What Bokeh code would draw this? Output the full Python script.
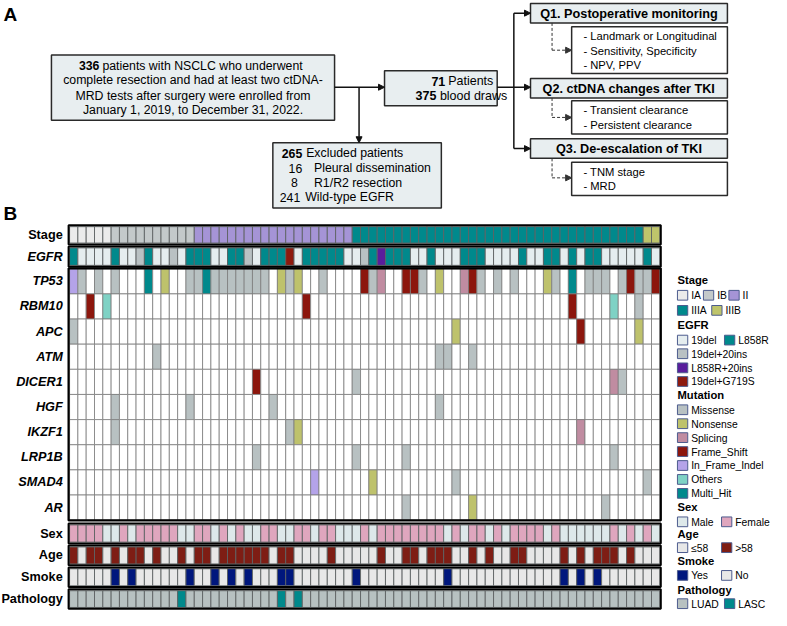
from bokeh.plotting import figure
from bokeh.models import Range1d, Arrow, NormalHead
from bokeh.core.properties import value
from bokeh.embed import file_html
from bokeh.resources import INLINE

# ---------------- data ----------------
N_PATIENTS = 71
stage_codes = ("AAAAA" "BBBBBBBBBB" "CCCCCCCCCCCCCCCCCCC"
               "DDDDDDDDDDDDDDDDDDDDDDDDDDDDDDDDDDD" "EE")
egfr_codes = ("LddddLddgL" "ddgdLLLddL" "LgdLLLRdLL" "LLLddgLPLL"
              "LddLdddLLL" "ddddLddLLd" "LdLLdddddL" "d")
genes = ["TP53", "RBM10", "APC", "ATM", "DICER1", "HGF", "IKZF1", "LRP1B", "SMAD4", "AR"]
mutations = {
    "TP53": [(0, "I"), (1, "M"), (3, "M"), (5, "M"), (9, "H"), (11, "N"), (14, "M"), (15, "M"),
             (16, "H"), (17, "M"), (18, "M"), (19, "M"), (20, "M"), (21, "M"), (22, "M"), (23, "M"),
             (25, "N"), (26, "M"), (27, "N"), (30, "M"), (35, "F"), (36, "M"), (37, "S"), (40, "F"),
             (41, "F"), (42, "M"), (44, "N"), (47, "S"), (48, "F"), (49, "M"), (51, "M"), (53, "M"),
             (57, "N"), (58, "M"), (60, "H"), (62, "M"), (63, "M"), (64, "M"), (66, "M"), (67, "F"),
             (68, "M"), (69, "M"), (70, "F")],
    "RBM10": [(2, "F"), (4, "O"), (28, "F"), (60, "F"), (65, "O"), (68, "M")],
    "APC": [(0, "M"), (46, "N"), (61, "F"), (68, "N")],
    "ATM": [(10, "M"), (44, "M"), (45, "M"), (48, "M")],
    "DICER1": [(22, "F"), (34, "M"), (65, "S"), (66, "M")],
    "HGF": [(5, "M"), (14, "M"), (24, "M"), (44, "M")],
    "IKZF1": [(5, "M"), (26, "M"), (27, "N"), (61, "S")],
    "LRP1B": [(22, "M"), (34, "M"), (40, "M"), (65, "M")],
    "SMAD4": [(29, "I"), (36, "N"), (46, "M"), (69, "M")],
    "AR": [(40, "M"), (48, "N"), (64, "M")],
}
sex_codes = ("FFFFMMFMFF" "FFFMMFFMFM" "FMMFFMMFFM" "FFMMMFMFFF"
             "FFFFFMFMFF" "MFMFFFFMFM" "MMMMMFMFMF" "M")
age_codes = ("OYOOYOYOOY" "OYYOYOOYOO" "OOOOYOOYYY" "YOYYYYYOYY"
             "OOYOOOYYOY" "OYYOOYYYYO" "YOYOOOYOYY" "Y")
smoke_codes = ("NNNNNYNYNN" "NNNNYNNYNY" "NYNNNYYNNN" "NNNNYNNNNN"
               "NNNNNYNNNN" "NNNNNNNNNY" "NYNYNNNNNN" "N")
path_codes = ("UUUUUUUUUU" "UUUSUUUUUU" "UUUUUSUSUU" "UUUUUUUUUU"
              "UUUUUUUUUU" "UUUUUUUUUU" "UUUUUUUUUU" "U")

stage_col = {"A": "#ebebeb", "B": "#c3c9ca", "C": "#a594d6", "D": "#00898c", "E": "#bec46b"}
egfr_col = {"d": "#e5edef", "L": "#00898c", "g": "#b9c1c3", "P": "#5a1e9c", "R": "#8e1a0e"}
mut_col = {"M": "#b8c1c2", "N": "#bec26c", "S": "#c08ca1", "F": "#8c160d",
           "I": "#b4a3e9", "O": "#7fd2c5", "H": "#00898c"}
sex_col = {"M": "#dde8ea", "F": "#dfa6be"}
age_col = {"Y": "#e7e7e7", "O": "#7e1d14"}
smoke_col = {"Y": "#00177d", "N": "#e8e8e8"}
path_col = {"U": "#b7c1c1", "S": "#00898c"}

# ---------------- figure ----------------
p = figure(width=771, height=610, x_range=Range1d(0, 787), y_range=Range1d(626, 0),
           output_backend="svg", toolbar_location=None, x_axis_type=None, y_axis_type=None,
           min_border=0)
p.outline_line_color = None
p.background_fill_color = "white"
SC = 0.976
INK = "#111111"


def txt(x, y, s, size, style="normal", align="left", color="#000000"):
    p.text(x=[x], y=[y], text=[s], text_font=value("Liberation Sans"),
           text_font_size=f"{size*SC:.2f}px", text_font_style=style,
           text_align=align, text_baseline="middle", text_color=color)


def box(l, r, t, b, fill, lw=1.5, lc="#2a2a2a"):
    p.quad(left=[l], right=[r], top=[t], bottom=[b], fill_color=fill, line_color=lc, line_width=lw)


def arrow(x0, y0, x1, y1, dash="solid", lw=1.5, color=INK, head=True):
    end = NormalHead(size=6, fill_color=color, line_color=color, line_width=1) if head else None
    p.add_layout(Arrow(end=end, x_start=x0, y_start=y0, x_end=x1, y_end=y1,
                       line_width=lw, line_color=color, line_dash=dash))


def seg(xs, ys, dash="solid", lw=1.5, color=INK):
    p.line(x=xs, y=ys, line_width=lw, line_color=color, line_dash=dash)


# ---------------- panel A ----------------
txt(3, 14, "A", 19.5, "bold")
BOXF = "#e8eef0"
box(52, 341, 56, 123, BOXF)
txt(101, 67, "336", 12.6, "bold", "right")
txt(104, 67, "patients with NSCLC who underwent", 12.6)
txt(196.5, 82, "complete resection and had at least two ctDNA-", 12.6, align="center")
txt(196.5, 97.5, "MRD tests after surgery were enrolled from", 12.6, align="center")
txt(196.5, 112.5, "January 1, 2019, to December 31, 2022.", 12.6, align="center")

arrow(341, 89, 392, 89)
arrow(366, 89, 366, 146)

box(392, 507, 72, 108, BOXF)
txt(454, 83, "71", 12.8, "bold", "right")
txt(457, 83, "Patients", 12.8)
txt(445, 98, "375", 12.8, "bold", "right")
txt(448.5, 98, "blood draws", 12.8)

box(278, 450, 146, 213, BOXF)
txt(308, 157, "265", 12.6, "bold", "right")
txt(312, 157, "Excluded patients", 12.6)
txt(308, 172, "16", 12.6, align="right")
txt(320, 172, "Pleural dissemination", 12.6)
txt(303.5, 187, "8", 12.6, align="right")
txt(320, 187, "R1/R2 resection", 12.6)
txt(306, 202, "241", 12.6, align="right")
txt(311, 202, "Wild-type EGFR", 12.6)

seg([507, 524], [89, 89])
seg([524, 524], [13, 152])
arrow(524, 13, 541, 13)
arrow(524, 89, 541, 89)
arrow(524, 152, 541, 152)

q_titles = ["Q1. Postoperative monitoring", "Q2. ctDNA changes after TKI", "Q3. De-escalation of TKI"]
q_boxes = [(3, 23), (80, 100), (142, 162)]
sub_boxes = [(27, 75), (103, 137), (166, 200)]
sub_lines = [["- Landmark or Longitudinal", "- Sensitivity, Specificity", "- NPV, PPV"],
             ["- Transient clearance", "- Persistent clearance"],
             ["- TNM stage", "- MRD"]]
sub_arrow_y = [51, 120, 182]
for title, (qt, qb), (st, sb), lines, ay in zip(q_titles, q_boxes, sub_boxes, sub_lines, sub_arrow_y):
    box(541, 742, qt, qb, BOXF)
    txt(641.5, (qt + qb) / 2 + 0.5, title, 13, "bold", "center")
    box(583, 742, st, sb, "white")
    n = len(lines)
    for i, s in enumerate(lines):
        txt(595, st + 9.5 + i * 15, s, 11.5)
    seg([563, 563], [qb, ay], dash="3 2", lw=1, color="#333333")
    arrow(563, ay, 583, ay, dash="3 2", lw=1, color="#333333")

# ---------------- panel B ----------------
txt(3, 219, "B", 19.5, "bold")
X0, X1 = 70.5, 673.0
CW = (X1 - X0) / N_PATIENTS
FL, FR = 69.5, 674.0


def ann_row(codes, cmap, top, bottom, label, style="bold"):
    lefts = [X0 + i * CW for i in range(len(codes))]
    rights = [X0 + (i + 1) * CW for i in range(len(codes))]
    cols = [cmap[c] for c in codes]
    p.quad(left=lefts, right=rights, top=[top + 1.4] * len(codes), bottom=[bottom - 1.4] * len(codes),
           fill_color=cols, line_color="#5e6263", line_width=0.9)
    p.quad(left=[FL], right=[FR], top=[top], bottom=[bottom], fill_color=None,
           line_color="#000000", line_width=2)
    txt(63.5, (top + bottom) / 2, label, 13, style, "right")


ann_row(stage_codes, stage_col, 230.7, 250.3, "Stage")
ann_row(egfr_codes, egfr_col, 252.5, 273.2, "EGFR", "bold italic")

MT, MH = 275.3, 25.8
for gi, g in enumerate(genes):
    top = MT + gi * MH
    bot = top + MH
    hits = dict(mutations[g])
    lefts = [X0 + i * CW for i in range(N_PATIENTS)]
    rights = [X0 + (i + 1) * CW for i in range(N_PATIENTS)]
    cols = [mut_col[hits[i]] if i in hits else "white" for i in range(N_PATIENTS)]
    p.quad(left=lefts, right=rights, top=[top] * N_PATIENTS, bottom=[bot] * N_PATIENTS,
           fill_color=cols, line_color="#7c7c7c", line_width=0.8)
    txt(63.5, top + MH / 2, g, 13, "bold italic", "right")
p.quad(left=[FL], right=[FR], top=[MT - 0.5], bottom=[MT + 10 * MH + 0.3], fill_color=None,
       line_color="#000000", line_width=2.2)

ann_row(sex_codes, sex_col, 536.8, 557.2, "Sex")
ann_row(age_codes, age_col, 559.4, 579.6, "Age")
ann_row(smoke_codes, smoke_col, 581.8, 602.0, "Smoke")
ann_row(path_codes, path_col, 604.3, 624.3, "Pathology")

# ---------------- legend ----------------
LB = "#4d5c8e"


def swatch(x, y, color, label):
    p.quad(left=[x], right=[x + 10.5], top=[y - 5], bottom=[y + 5], fill_color=color,
           line_color=LB, line_width=1)
    txt(x + 14, y + 0.5, label, 10.6)


LX = 691
txt(LX, 287, "Stage", 11.5, "bold")
swatch(LX, 302.5, stage_col["A"], "IA")
swatch(717.5, 302.5, stage_col["B"], "IB")
swatch(743.5, 302.5, stage_col["C"], "II")
swatch(LX, 318, stage_col["D"], "IIIA")
swatch(726, 318, stage_col["E"], "IIIB")
txt(LX, 333, "EGFR", 11.5, "bold")
swatch(LX, 348.5, egfr_col["d"], "19del")
swatch(739, 348.5, egfr_col["L"], "L858R")
swatch(LX, 362.5, egfr_col["g"], "19del+20ins")
swatch(LX, 377, egfr_col["P"], "L858R+20ins")
swatch(LX, 391, egfr_col["R"], "19del+G719S")
txt(LX, 405, "Mutation", 11.5, "bold")
mut_names = [("M", "Missense"), ("N", "Nonsense"), ("S", "Splicing"), ("F", "Frame_Shift"),
             ("I", "In_Frame_Indel"), ("O", "Others"), ("H", "Multi_Hit")]
for i, (k, name) in enumerate(mut_names):
    swatch(LX, 420 + i * 14.3, mut_col[k], name)
txt(LX, 520, "Sex", 11.5, "bold")
swatch(LX, 535, sex_col["M"], "Male")
swatch(736, 535, sex_col["F"], "Female")
txt(LX, 547.5, "Age", 11.5, "bold")
swatch(LX, 561.5, age_col["Y"], "≤58")
swatch(736, 561.5, age_col["O"], ">58")
txt(LX, 575.5, "Smoke", 11.5, "bold")
swatch(LX, 590, smoke_col["Y"], "Yes")
swatch(736, 590, smoke_col["N"], "No")
txt(LX, 604.5, "Pathology", 11.5, "bold")
swatch(LX, 619, path_col["U"], "LUAD")
swatch(739, 619, path_col["S"], "LASC")

open("out.html", "w").write(file_html(p, INLINE))
